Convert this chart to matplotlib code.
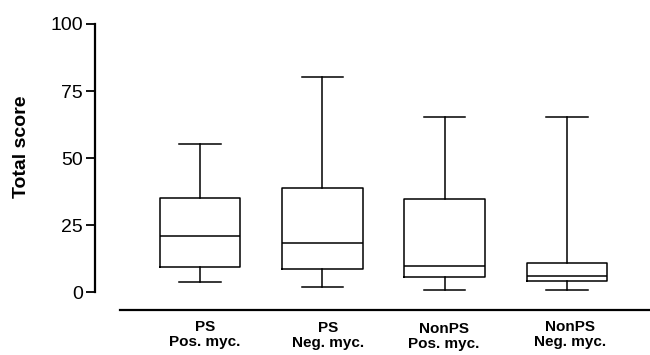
import matplotlib
matplotlib.use("Agg")
import matplotlib.pyplot as plt

plt.rcParams['font.family'] = ['Liberation Sans', 'DejaVu Sans']

group_line1 = ["PS", "PS", "NonPS", "NonPS"]
group_line2 = ["Pos. myc.", "Neg. myc.", "Pos. myc.", "Neg. myc."]
whisker_low = [3.8, 1.7, 0.8, 0.8]
q1 = [9.4, 8.5, 5.5, 4.1]
median = [20.9, 18.2, 9.7, 6.1]
q3 = [35.0, 38.7, 34.6, 10.9]
whisker_high = [55.1, 80.3, 65.2, 65.4]
yticks = [0, 25, 50, 75, 100]

W, H = 650, 355
fig = plt.figure(figsize=(W / 100, H / 100), dpi=100)
ax_bottom_px, ax_top_px = 310, 24
ax = fig.add_axes([95 / W, (H - ax_bottom_px) / H, 1 - 95 / W,
                   (ax_bottom_px - ax_top_px) / H])

stats = []
for i in range(4):
    stats.append(dict(whislo=whisker_low[i], q1=q1[i], med=median[i],
                      q3=q3[i], whishi=whisker_high[i], fliers=[]))
positions = [1, 2, 3, 4]
lp = dict(color='black', linewidth=1.1)
ax.bxp(stats, positions=positions, widths=0.66, capwidths=0.34,
       showfliers=False, boxprops=lp, whiskerprops=lp, capprops=lp,
       medianprops=lp)

ax.set_xlim(0.1415, 4.679)
ax.set_ylim(-6.7, 100)
ax.set_yticks(yticks)
ax.set_yticklabels([str(t) for t in yticks], fontsize=14)
ax.tick_params(axis='y', direction='out', length=6.5, width=1.3, pad=2, colors='black')
ax.tick_params(axis='x', bottom=False, labelbottom=False)
ax.spines['top'].set_visible(False)
ax.spines['right'].set_visible(False)
ax.spines['left'].set_bounds(0, 100)
ax.spines['left'].set_linewidth(1.6)
ax.spines['bottom'].set_bounds(0.346, 4.679)
ax.spines['bottom'].set_linewidth(1.6)

# per-label nudges (data units / pixel top) to mimic the scan
label_off = [0.04, 0.05, -0.005, 0.025]
label_top = [320, 321, 322, 320]
span = ax_bottom_px - ax_top_px
trans = ax.get_xaxis_transform()
for i, p in enumerate(positions):
    ax.text(p + label_off[i], (ax_bottom_px - label_top[i]) / span,
            group_line1[i] + "\n" + group_line2[i],
            transform=trans, ha='center', va='top', multialignment='center',
            fontsize=11, fontweight='bold', linespacing=1.05, clip_on=False)

fig.text(22 / W, 1 - 147 / H, "Total score", rotation=90, ha='center', va='center',
         fontsize=14, fontweight='bold')

fig.savefig("out.png", dpi=100)
